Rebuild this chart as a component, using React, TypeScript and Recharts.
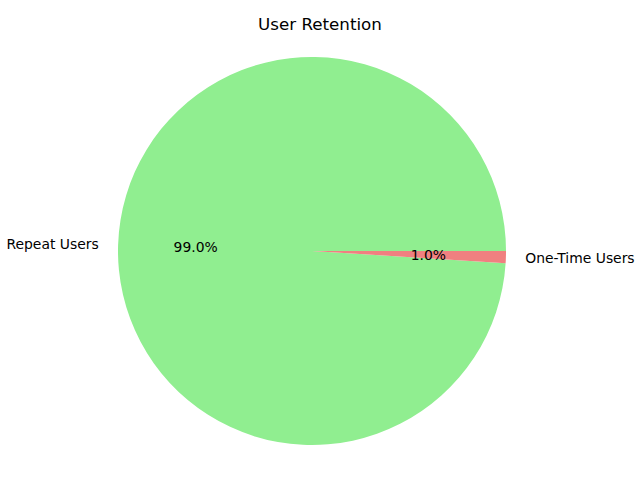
import React from 'react';
import { PieChart, Pie, Cell } from 'recharts';

const categories = ['Repeat Users', 'One-Time Users'];
const values = [99, 1];
const colors = ['#90EE90', '#F08080'];

const data = categories.map((name, i) => ({ name, value: values[i] }));

const RADIAN = Math.PI / 180;

const renderLabel = (props: any) => {
  const { cx, cy, midAngle, outerRadius, percent, name } = props;
  const cos = Math.cos(-midAngle * RADIAN);
  const sin = Math.sin(-midAngle * RADIAN);
  const lx = cx + outerRadius * 1.1 * cos;
  const ly = cy + outerRadius * 1.1 * sin;
  const px = cx + outerRadius * 0.6 * cos;
  const py = cy + outerRadius * 0.6 * sin;
  return (
    <g>
      <text
        x={lx}
        y={ly}
        textAnchor={cos >= 0 ? 'start' : 'end'}
        dominantBaseline="central"
        fill="#000"
        fontSize={13.9}
        fontFamily="DejaVu Sans"
      >
        {name}
      </text>
      <text
        x={px}
        y={py}
        textAnchor="middle"
        dominantBaseline="central"
        fill="#000"
        fontSize={13.9}
        fontFamily="DejaVu Sans"
      >
        {(percent * 100).toFixed(1) + '%'}
      </text>
    </g>
  );
};

export default function App() {
  return (
    <div style={{ position: 'absolute', left: 0, top: 0, width: 640, height: 480, background: '#fff' }}>
      <div
        style={{
          position: 'absolute',
          left: 0,
          top: 14,
          width: 640,
          textAlign: 'center',
          fontFamily: 'DejaVu Sans',
          fontSize: 16.7,
          lineHeight: '20px',
          color: '#000',
        }}
      >
        User Retention
      </div>
      <PieChart width={640} height={480} margin={{ top: 0, right: 0, bottom: 0, left: 0 }}>
        <Pie
          data={data}
          dataKey="value"
          nameKey="name"
          cx={312}
          cy={251}
          outerRadius={194}
          startAngle={0}
          endAngle={360}
          label={renderLabel}
          labelLine={false}
          isAnimationActive={false}
          stroke="none"
        >
          {data.map((d, i) => (
            <Cell key={d.name} fill={colors[i]} stroke="none" />
          ))}
        </Pie>
      </PieChart>
    </div>
  );
}
